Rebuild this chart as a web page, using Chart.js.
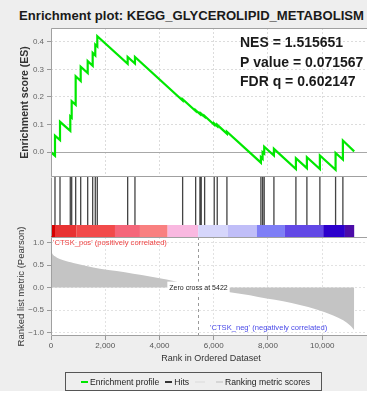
<!DOCTYPE html>
<html>
<head>
<meta charset="utf-8">
<script src="https://cdn.jsdelivr.net/npm/chart.js@4.4.1/dist/chart.umd.min.js"></script>
<style>
  body {
    margin: 0;
    width: 367px;
    height: 394px;
    overflow: hidden;
    position: relative;
    background: #eeeeee;
    font-family: 'Liberation Sans', Arial, sans-serif;
  }
  .panel { position: absolute; left: 0; }
  #title {
    position: absolute;
    left: 0;
    top: 8px;
    width: 383px;
    text-align: center;
    font-weight: bold;
    font-size: 13.1px;
    line-height: 15px;
    color: #1a1a1a;
    white-space: nowrap;
  }
  #legend {
    position: absolute;
    left: 65px;
    top: 372px;
    width: 257px;
    height: 19px;
    box-sizing: border-box;
    border: 1px solid #555;
    padding-left: 15px;
    display: flex;
    align-items: center;
    font-size: 8.6px;
    color: #222;
  }
  #legend .item { display: flex; align-items: center; margin-right: 6px; white-space: nowrap; }
  #legend .swatch { width: 7px; height: 2px; margin-right: 2px; }
  #footer { position: absolute; left: 0; top: 391px; width: 367px; height: 3px; background: #fff; }
</style>
</head>
<body>
<div id="title">Enrichment plot: KEGG_GLYCEROLIPID_METABOLISM</div>
<canvas id="esChart" class="panel" style="top:28px" width="383" height="149"></canvas>
<canvas id="hitsChart" class="panel" style="top:177px" width="383" height="60"></canvas>
<canvas id="metricChart" class="panel" style="top:177px" width="383" height="187"></canvas>
<div id="legend">
  <div class="item"><span class="swatch" style="background:#00e600"></span>Enrichment profile</div>
  <div class="item"><span class="swatch" style="background:#333"></span>Hits</div>
  <div class="item" style="margin-right:9px"><span class="swatch" style="background:#e4e4e4;width:10px"></span></div>
  <div class="item"><span class="swatch" style="background:#d6d6d6"></span>Ranking metric scores</div>
</div>
<div id="footer"></div>
<script>
// Gene set members, by rank in the ordered list
const hitRanks = [147, 332, 711, 763, 910, 1095, 1353, 1537, 1633, 1707, 2827, 3096,
    4854, 5334, 5492, 5540, 5665, 6019, 6130, 6487, 7740, 7803, 7862, 8220,
    9031, 9436, 9915, 10494, 10763];

// Running enrichment score (value just before and just after each hit)
const esRank = [0, 147, 147, 332, 332, 711, 711, 763, 763, 910, 910, 1095, 1095,
    1353, 1353, 1537, 1537, 1633, 1633, 1707, 1707, 2827, 2827, 3096, 3096,
    4854, 4854, 5334, 5334, 5492, 5492, 5540, 5540, 5665, 5665, 6019, 6019,
    6130, 6130, 6487, 6487, 7740, 7740, 7803, 7803, 7862, 7862, 8220, 8220,
    9031, 9031, 9436, 9436, 9915, 9915, 10494, 10494, 10763, 10763, 11180];
const esScore = [0, -0.013, 0.06, 0.044, 0.11, 0.077, 0.13, 0.125, 0.185, 0.172, 0.275, 0.258, 0.31,
    0.287, 0.33, 0.313, 0.36, 0.351, 0.39, 0.383, 0.42, 0.32, 0.345, 0.321, 0.345,
    0.187, 0.192, 0.149, 0.152, 0.138, 0.141, 0.137, 0.139, 0.128, 0.131, 0.099, 0.104,
    0.094, 0.099, 0.067, 0.074, -0.038, -0.018, -0.024, 0.0, -0.005, 0.02, -0.012, 0.012,
    -0.061, -0.022, -0.058, -0.018, -0.061, -0.012, -0.064, -0.003, -0.027, 0.042, 0.003];

// Ranked list metric (Pearson)
const metricRank = [0, 40, 147, 455, 825, 1310, 1806, 2420, 3035, 3650, 4264, 4850, 5422,
    5900, 6476, 7335, 7950, 8564, 9178, 9793, 10407, 10775, 11021, 11120, 11180];
const metricValue = [0.85, 0.77, 0.7, 0.61, 0.55, 0.48, 0.42, 0.37, 0.31, 0.25, 0.18, 0.1, 0.0,
    -0.05, -0.09, -0.17, -0.245, -0.305, -0.39, -0.49, -0.62, -0.73, -0.84, -0.9, -0.95];

// Heat bar segments along the ranked list
const bandEdges = [0, 147, 945, 2359, 3280, 4300, 5430, 6514, 7594, 8626, 10038, 10838, 11180];
const bandColors = ['#d40000', '#e83232', '#f24a4a', '#f5667a', '#f98080', '#f9b8e0',
    '#d6d6fb', '#c0bef8', '#7e7ef6', '#6248e6', '#2c00cc', '#4c0ca8'];

const rankTicks = [0, 2000, 4000, 6000, 8000, 10000];
const zeroCross = 5422;
const statLines = ['NES = 1.515651', 'P value = 0.071567', 'FDR q = 0.602147'];
const rankMax = 11800;

const FONT = "'Liberation Sans', Arial, sans-serif";
const AXIS_WIDTH = 51;
const RIGHT_PAD = 12;

Chart.defaults.font.family = FONT;
Chart.defaults.animation = false;

// keep every panel's plot area on the same left edge
function fixLeftAxis(scale) {
    scale.width = AXIS_WIDTH;
    scale.paddingTop = 0;
    scale.paddingBottom = 0;
}

function flatXAxis(scale) {
    scale.height = 0;
    scale.paddingLeft = 0;
    scale.paddingRight = 0;
}

function setRankTicks(scale) {
    scale.ticks = rankTicks.map(v => ({ value: v }));
}

// white plot background plus a thin grey frame
const panelFrame = {
    id: 'panelFrame',
    beforeDraw(chart) {
        const { ctx, chartArea: a } = chart;
        ctx.save();
        ctx.fillStyle = '#ffffff';
        ctx.fillRect(a.left, a.top, a.right - a.left, a.bottom - a.top);
        ctx.restore();
    },
    afterDraw(chart, args, opts) {
        const { ctx, chartArea: a } = chart;
        const l = a.left + 0.5, r = a.right - 0.5, t = a.top + 0.5, b = a.bottom - 0.5;
        ctx.save();
        ctx.strokeStyle = '#a0a0a0';
        ctx.lineWidth = 1;
        ctx.beginPath();
        ctx.moveTo(l, t); ctx.lineTo(l, b);
        ctx.moveTo(r, t); ctx.lineTo(r, b);
        if (opts.top !== false) { ctx.moveTo(l, t); ctx.lineTo(r, t); }
        if (opts.bottom !== false) { ctx.moveTo(l, b); ctx.lineTo(r, b); }
        ctx.stroke();
        ctx.restore();
    }
};

// zero line and the NES / p / FDR block
const esExtras = {
    id: 'esExtras',
    beforeDatasetsDraw(chart) {
        const { ctx, chartArea: a, scales } = chart;
        const y0 = Math.round(scales.y.getPixelForValue(0)) + 0.5;
        ctx.save();
        ctx.strokeStyle = '#a8a8a8';
        ctx.lineWidth = 1;
        ctx.beginPath();
        ctx.moveTo(a.left, y0);
        ctx.lineTo(a.right, y0);
        ctx.stroke();
        ctx.restore();
    },
    afterDatasetsDraw(chart) {
        const { ctx, chartArea: a } = chart;
        ctx.save();
        ctx.font = 'bold 14px ' + FONT;
        ctx.fillStyle = '#1a1a1a';
        ctx.textBaseline = 'middle';
        statLines.forEach((line, i) => {
            ctx.fillText(line, a.left + 189, a.top + 15.5 + i * 19.5);
        });
        ctx.restore();
    }
};

const colorBar = {
    id: 'colorBar',
    beforeDatasetsDraw(chart) {
        const { ctx, scales: { x, y } } = chart;
        const top = y.getPixelForValue(0.2);
        const bottom = y.getPixelForValue(0);
        ctx.save();
        for (let i = 0; i < bandColors.length; i++) {
            const x0 = x.getPixelForValue(bandEdges[i]);
            const x1 = x.getPixelForValue(bandEdges[i + 1]);
            ctx.fillStyle = bandColors[i];
            ctx.fillRect(x0, top, x1 - x0, bottom - top);
        }
        ctx.restore();
    }
};

const metricExtras = {
    id: 'metricExtras',
    afterDatasetsDraw(chart) {
        const { ctx, chartArea: a, scales: { x, y } } = chart;
        const xz = Math.round(x.getPixelForValue(zeroCross)) + 0.5;
        const y0 = y.getPixelForValue(0);
        ctx.save();
        ctx.strokeStyle = '#9a9a9a';
        ctx.lineWidth = 1;
        ctx.setLineDash([3, 3]);
        ctx.beginPath();
        ctx.moveTo(xz, a.top);
        ctx.lineTo(xz, a.bottom);
        ctx.stroke();
        ctx.setLineDash([]);

        ctx.font = '7px ' + FONT;
        ctx.textBaseline = 'middle';
        ctx.textAlign = 'center';
        const label = 'Zero cross at ' + zeroCross;
        const w = ctx.measureText(label).width;
        ctx.fillStyle = '#ffffff';
        ctx.fillRect(xz - w / 2 - 2, y0 - 6, w + 4, 12);
        ctx.fillStyle = '#222';
        ctx.fillText(label, xz, y0);

        ctx.font = '7.6px ' + FONT;
        ctx.textAlign = 'left';
        ctx.fillStyle = '#ee4444';
        ctx.fillText("'CTSK_pos' (positively correlated)", a.left + 2, a.top + 6);
        ctx.fillStyle = '#4a4ae8';
        ctx.fillText("'CTSK_neg' (negatively correlated)", a.left + 159, a.bottom - 8);
        ctx.restore();
    }
};

buildEsChart();
buildHitsChart();
buildMetricChart();

function buildEsChart() {
    const ctx = document.getElementById('esChart').getContext('2d');
    new Chart(ctx, {
        type: 'line',
        data: {
            datasets: [{
                label: 'Enrichment profile',
                data: esRank.map((r, i) => ({ x: r, y: esScore[i] })),
                borderColor: 'rgb(0, 232, 0)',
                borderWidth: 2.2,
                pointRadius: 0,
                tension: 0,
                fill: false
            }]
        },
        options: {
            responsive: false,
            layout: { padding: { left: 0, right: RIGHT_PAD, top: 0, bottom: 0 } },
            plugins: { legend: { display: false }, tooltip: { enabled: false } },
            scales: {
                x: {
                    type: 'linear',
                    min: 0,
                    max: rankMax,
                    ticks: { display: false },
                    grid: { color: '#dcdcdc', drawTicks: false },
                    border: { display: false, dash: [2, 2] },
                    afterBuildTicks: setRankTicks,
                    afterFit: flatXAxis
                },
                y: {
                    min: -0.09,
                    max: 0.45,
                    ticks: {
                        stepSize: 0.1,
                        includeBounds: false,
                        padding: 3,
                        color: '#666',
                        font: { size: 8 },
                        callback: v => v.toFixed(1)
                    },
                    grid: { color: '#dcdcdc', tickLength: 4, tickColor: '#999' },
                    border: { display: false, dash: [2, 2] },
                    title: {
                        display: true,
                        text: 'Enrichment score (ES)',
                        color: '#333',
                        font: { size: 10.5, weight: 'bold', lineHeight: 1 },
                        padding: { top: 19.5, bottom: 0 }
                    },
                    afterFit: fixLeftAxis
                }
            }
        },
        plugins: [panelFrame, esExtras]
    });
}

function buildHitsChart() {
    const ctx = document.getElementById('hitsChart').getContext('2d');
    new Chart(ctx, {
        type: 'line',
        data: {
            datasets: [{
                label: 'Hits',
                data: hitRanks.flatMap(r => [{ x: r, y: 0.2 }, { x: r, y: 1 }, { x: r, y: null }]),
                borderColor: '#444',
                borderWidth: 1.3,
                pointRadius: 0,
                spanGaps: false,
                fill: false
            }]
        },
        options: {
            responsive: false,
            layout: { padding: { left: AXIS_WIDTH, right: RIGHT_PAD, top: 0, bottom: 0 } },
            plugins: {
                legend: { display: false },
                tooltip: { enabled: false },
                panelFrame: { top: false, bottom: false }
            },
            scales: {
                x: { type: 'linear', min: 0, max: rankMax, display: false },
                y: { min: 0, max: 1, display: false }
            }
        },
        plugins: [panelFrame, colorBar]
    });
}

function buildMetricChart() {
    // the canvas starts level with the hits strip so the long axis title has room
    const ctx = document.getElementById('metricChart').getContext('2d');
    new Chart(ctx, {
        type: 'line',
        data: {
            datasets: [{
                label: 'Ranking metric scores',
                data: metricRank.map((r, i) => ({ x: r, y: metricValue[i] })),
                borderWidth: 0,
                borderColor: 'rgba(0,0,0,0)',
                backgroundColor: '#c4c4c4',
                pointRadius: 0,
                cubicInterpolationMode: 'monotone',
                fill: 'origin'
            }]
        },
        options: {
            responsive: false,
            layout: { padding: { left: 0, right: RIGHT_PAD, top: 60, bottom: 0 } },
            plugins: { legend: { display: false }, tooltip: { enabled: false } },
            scales: {
                x: {
                    type: 'linear',
                    min: 0,
                    max: rankMax,
                    ticks: {
                        padding: 1,
                        maxRotation: 0,
                        color: '#555',
                        font: { size: 8, lineHeight: 1.25 },
                        callback: v => v.toLocaleString('en-US')
                    },
                    grid: { color: '#e2e2e2', tickLength: 4, tickColor: '#999' },
                    border: { display: false, dash: [2, 2] },
                    title: {
                        display: true,
                        text: 'Rank in Ordered Dataset',
                        color: '#333',
                        font: { size: 9, lineHeight: 11 / 9 },
                        padding: { top: 1, bottom: 0 }
                    },
                    afterBuildTicks: setRankTicks,
                    afterFit(scale) {
                        scale.paddingLeft = 0;
                        scale.paddingRight = 0;
                    }
                },
                y: {
                    min: -1.08,
                    max: 1.13,
                    ticks: {
                        stepSize: 0.5,
                        includeBounds: false,
                        padding: 3,
                        color: '#666',
                        font: { size: 8 },
                        callback: v => (v < 0 ? '\u2212' : '') + Math.abs(v).toFixed(1)
                    },
                    grid: { color: '#e2e2e2', tickLength: 4, tickColor: '#999' },
                    border: { display: false, dash: [2, 2] },
                    title: {
                        display: true,
                        text: 'Ranked list metric (Pearson)',
                        color: '#333',
                        font: { size: 9.5, lineHeight: 1 },
                        padding: { top: 17, bottom: 0 }
                    },
                    afterFit: fixLeftAxis
                }
            }
        },
        plugins: [panelFrame, metricExtras]
    });
}
</script>
</body>
</html>
